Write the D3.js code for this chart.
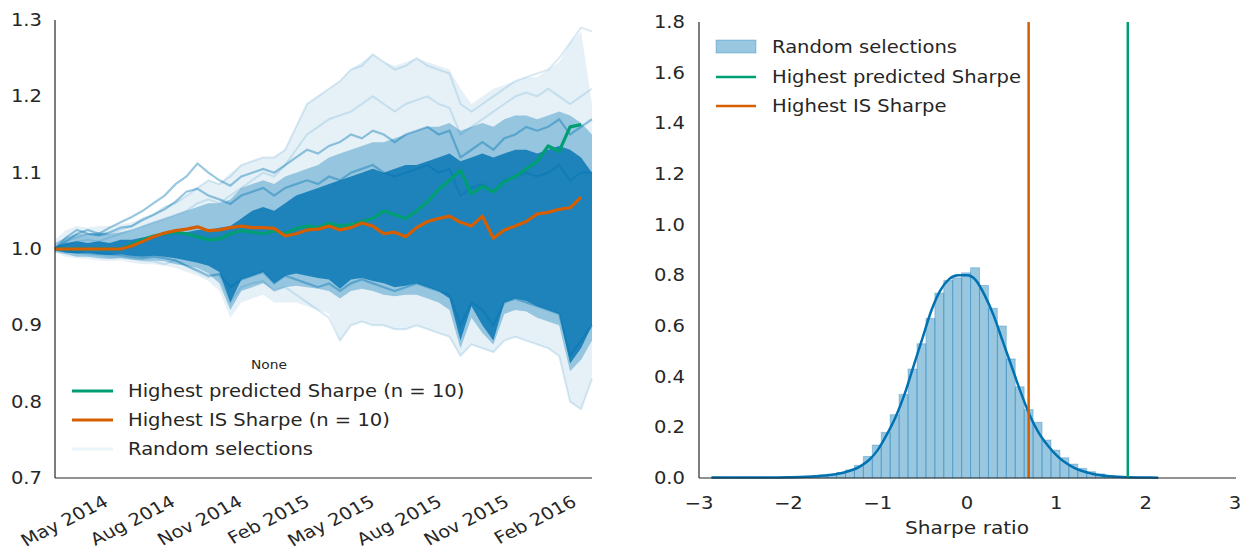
<!DOCTYPE html>
<html>
<head>
<meta charset="utf-8">
<script src="https://cdn.jsdelivr.net/npm/d3@7"></script>
<style>
  body { margin: 0; background: #fff; }
  text { font-family: "DejaVu Sans", sans-serif; fill: #262626; }
</style>
</head>
<body>
<svg id="chart" width="1243" height="555"></svg>
<script>

// ---- left panel: cumulative returns, one point every 15 days from 16 Feb 2014
const startDate = new Date(2014, 1, 16)
const nPoints = 50

const predictedSharpe = [1.0,1.0,1.0,1.0,1.0,1.0,1.0,1.006,1.012,1.017,1.02,1.022,1.02,1.016,1.012,1.013,1.02,1.024,1.022,1.02,1.024,1.02,1.027,1.03,1.028,1.034,1.03,1.032,1.036,1.04,1.05,1.045,1.04,1.05,1.062,1.078,1.09,1.103,1.072,1.082,1.075,1.088,1.095,1.105,1.115,1.135,1.128,1.16,1.163]

const isSharpe = [1.0,1.0,1.0,1.0,1.0,1.0,1.0,1.004,1.01,1.016,1.021,1.024,1.026,1.029,1.024,1.025,1.028,1.03,1.028,1.028,1.027,1.017,1.02,1.025,1.026,1.03,1.025,1.028,1.034,1.03,1.02,1.022,1.016,1.028,1.036,1.04,1.043,1.035,1.03,1.043,1.014,1.025,1.03,1.036,1.046,1.048,1.052,1.054,1.068]

// spread of the random selections (dense core, middle, faint outer)
const coreLo = [0.998,0.995,0.994,0.995,0.993,0.992,0.993,0.991,0.99,0.991,0.99,0.988,0.985,0.982,0.978,0.97,0.93,0.96,0.965,0.97,0.955,0.965,0.968,0.965,0.962,0.96,0.948,0.96,0.962,0.958,0.955,0.95,0.952,0.955,0.95,0.945,0.935,0.88,0.925,0.9,0.88,0.93,0.935,0.932,0.925,0.92,0.915,0.85,0.87,0.9]
const coreHi = [1.003,1.008,1.01,1.008,1.01,1.008,1.012,1.012,1.015,1.018,1.02,1.022,1.022,1.025,1.025,1.028,1.03,1.04,1.05,1.055,1.05,1.06,1.07,1.075,1.08,1.085,1.09,1.095,1.1,1.105,1.1,1.105,1.11,1.11,1.115,1.12,1.125,1.115,1.12,1.125,1.12,1.125,1.13,1.13,1.125,1.13,1.135,1.13,1.12,1.1]
const midLo = [0.996,0.993,0.99,0.99,0.988,0.987,0.988,0.986,0.985,0.985,0.984,0.98,0.978,0.975,0.968,0.955,0.92,0.945,0.95,0.955,0.945,0.95,0.952,0.95,0.948,0.945,0.935,0.945,0.948,0.945,0.94,0.938,0.94,0.94,0.935,0.93,0.92,0.87,0.91,0.89,0.875,0.915,0.92,0.918,0.91,0.905,0.9,0.84,0.855,0.88]
const midHi = [1.008,1.015,1.02,1.02,1.022,1.02,1.022,1.025,1.03,1.035,1.04,1.045,1.05,1.055,1.06,1.06,1.065,1.08,1.085,1.09,1.085,1.095,1.1,1.105,1.11,1.12,1.125,1.13,1.135,1.14,1.14,1.145,1.15,1.155,1.16,1.16,1.165,1.155,1.16,1.165,1.16,1.17,1.175,1.175,1.17,1.175,1.18,1.175,1.165,1.15]
const outerLo = [0.995,0.99,0.988,0.987,0.985,0.984,0.985,0.982,0.98,0.98,0.978,0.975,0.97,0.965,0.958,0.945,0.91,0.93,0.935,0.94,0.93,0.93,0.93,0.925,0.92,0.915,0.88,0.9,0.905,0.9,0.9,0.895,0.895,0.9,0.895,0.89,0.885,0.86,0.875,0.87,0.865,0.88,0.885,0.88,0.875,0.87,0.86,0.8,0.79,0.83]
const outerHi = [1.012,1.025,1.03,1.028,1.03,1.03,1.032,1.035,1.04,1.045,1.055,1.062,1.07,1.08,1.09,1.085,1.1,1.11,1.115,1.12,1.12,1.13,1.16,1.19,1.2,1.21,1.22,1.235,1.245,1.255,1.245,1.24,1.245,1.25,1.245,1.24,1.235,1.21,1.19,1.2,1.21,1.215,1.22,1.225,1.225,1.235,1.245,1.27,1.285,1.19]

// a few single random selections that stand out
const randomTop = [1.0,1.01,1.015,1.02,1.018,1.02,1.025,1.03,1.04,1.045,1.055,1.06,1.07,1.08,1.09,1.085,1.095,1.11,1.115,1.12,1.12,1.13,1.16,1.19,1.2,1.21,1.22,1.235,1.24,1.255,1.245,1.235,1.24,1.25,1.24,1.235,1.23,1.19,1.18,1.19,1.2,1.21,1.22,1.225,1.23,1.235,1.25,1.27,1.29,1.285]
const randomTop2 = [1.0,1.005,1.01,1.012,1.01,1.015,1.02,1.025,1.03,1.035,1.04,1.045,1.05,1.06,1.065,1.06,1.07,1.08,1.09,1.1,1.095,1.11,1.13,1.15,1.16,1.17,1.175,1.18,1.19,1.2,1.19,1.18,1.19,1.195,1.2,1.19,1.185,1.15,1.16,1.17,1.18,1.19,1.2,1.205,1.2,1.21,1.2,1.19,1.2,1.21]
const randomUpA = [1.0,1.01,1.02,1.025,1.02,1.028,1.035,1.042,1.05,1.06,1.07,1.085,1.095,1.112,1.1,1.09,1.083,1.095,1.1,1.105,1.1,1.11,1.12,1.13,1.125,1.135,1.14,1.15,1.145,1.155,1.15,1.14,1.15,1.155,1.16,1.15,1.155,1.12,1.13,1.14,1.13,1.145,1.15,1.16,1.155,1.16,1.17,1.15,1.16,1.17]
const randomUpB = [1.0,1.015,1.025,1.02,1.018,1.022,1.028,1.03,1.038,1.045,1.052,1.062,1.075,1.079,1.07,1.065,1.059,1.07,1.075,1.08,1.07,1.08,1.085,1.09,1.085,1.095,1.09,1.1,1.105,1.11,1.1,1.095,1.1,1.105,1.11,1.1,1.105,1.07,1.08,1.085,1.075,1.09,1.095,1.1,1.095,1.1,1.11,1.09,1.1,1.1]
const randomLowA = [1.0,0.998,0.995,0.993,0.992,0.99,0.99,0.988,0.985,0.984,0.98,0.985,0.978,0.97,0.963,0.967,0.93,0.95,0.955,0.958,0.945,0.95,0.94,0.93,0.92,0.91,0.88,0.9,0.905,0.9,0.9,0.895,0.895,0.9,0.895,0.89,0.885,0.86,0.875,0.87,0.865,0.88,0.885,0.88,0.875,0.87,0.86,0.8,0.79,0.83]
const randomLowB = [1.0,0.998,0.996,0.995,0.994,0.993,0.992,0.99,0.988,0.99,0.988,0.985,0.978,0.972,0.965,0.967,0.95,0.96,0.965,0.97,0.955,0.965,0.96,0.955,0.95,0.955,0.945,0.955,0.96,0.955,0.95,0.945,0.95,0.955,0.95,0.945,0.94,0.9,0.93,0.92,0.9,0.93,0.935,0.93,0.925,0.92,0.915,0.86,0.88,0.9]

const dateTicks = ['2014-05-01','2014-08-01','2014-11-01','2015-02-01','2015-05-01','2015-08-01','2015-11-01','2016-02-01']
const returnTicks = [0.7, 0.8, 0.9, 1.0, 1.1, 1.2, 1.3]

// ---- right panel: Sharpe ratio distribution
const histStart = -2.86
const histBinWidth = 0.1
const histDensity = [0.004,0,0,0.002,0,0.002,0,0.002,0.002,0.004,0.004,0.006,0.008,0.014,0.022,0.032,0.05,0.085,0.13,0.18,0.25,0.33,0.43,0.53,0.63,0.73,0.78,0.79,0.81,0.83,0.76,0.67,0.6,0.47,0.36,0.27,0.22,0.15,0.11,0.08,0.055,0.038,0.025,0.016,0.01,0.006,0.004,0.003,0.002,0.002]

const kdeX = [-2.86,-2.6,-2.2,-2.0,-1.8,-1.6,-1.4,-1.2,-1.1,-1.0,-0.9,-0.8,-0.7,-0.6,-0.5,-0.4,-0.3,-0.2,-0.1,0.0,0.1,0.2,0.3,0.4,0.5,0.6,0.7,0.8,0.9,1.0,1.2,1.4,1.6,1.8,2.0,2.14]
const kdeY = [0.002,0.002,0.002,0.003,0.005,0.01,0.02,0.045,0.07,0.11,0.17,0.24,0.33,0.44,0.55,0.66,0.74,0.785,0.80,0.80,0.78,0.72,0.64,0.54,0.44,0.34,0.25,0.18,0.13,0.09,0.04,0.017,0.007,0.003,0.002,0.001]

const sharpePredicted = 1.80
const sharpeIS = 0.69

const sharpeTicks = [-3, -2, -1, 0, 1, 2, 3]
const densityTicks = [0.0, 0.2, 0.4, 0.6, 0.8, 1.0, 1.2, 1.4, 1.6, 1.8]

const blue = '#0072b2'
const green = '#009e73'
const orange = '#d55e00'

// the source figure is a little wider than tall, text included
const stretch = 1.15

let svg = d3.select('#chart')

// text helper: places a (horizontally stretched) label at x,y
const label = (parent, x, y, str, size, anchor, rotate) => parent.append('text')
.attr('transform', 'translate(' + x + ',' + y + ') scale(' + stretch + ',1)' + (rotate ? ' rotate(' + rotate + ')' : ''))
.attr('text-anchor', anchor || 'start')
.style('font-size', size + 'px')
.text(str)

// ================= left panel =================

let dates = d3.range(nPoints).map(i => d3.timeDay.offset(startDate, i * 15))

let xTime = d3.scaleTime()
.domain([dates[0], dates[nPoints - 1]])
.range([55, 592])

let yRet = d3.scaleLinear()
.domain([0.7, 1.3])
.range([478, 20])

let left = svg.append('g')

const band = (lo, hi) => d3.area()
.x((d, i) => xTime(dates[i]))
.y0((d, i) => yRet(lo[i]))
.y1((d, i) => yRet(hi[i]))(lo)

const path = d3.line()
.x((d, i) => xTime(dates[i]))
.y(d => yRet(d))

left.append('path').attr('d', band(outerLo, outerHi)).attr('fill', blue).attr('fill-opacity', 0.1)
left.append('path').attr('d', band(midLo, midHi)).attr('fill', blue).attr('fill-opacity', 0.35)

;[randomTop, randomTop2, randomLowA].map(s => {
	left.append('path')
	.attr('d', path(s))
	.attr('fill', 'none')
	.attr('stroke', blue)
	.attr('stroke-opacity', 0.15)
	.attr('stroke-width', 2)
})

left.append('path').attr('d', band(coreLo, coreHi)).attr('fill', blue).attr('fill-opacity', 0.8)

;[randomUpA, randomUpB, randomLowB].map(s => {
	left.append('path')
	.attr('d', path(s))
	.attr('fill', 'none')
	.attr('stroke', blue)
	.attr('stroke-opacity', 0.4)
	.attr('stroke-width', 2.2)
})

left.append('path')
.attr('d', path(predictedSharpe))
.attr('fill', 'none')
.attr('stroke', green)
.attr('stroke-width', 3.2)
.attr('stroke-linejoin', 'round')

left.append('path')
.attr('d', path(isSharpe))
.attr('fill', 'none')
.attr('stroke', orange)
.attr('stroke-width', 3.2)
.attr('stroke-linejoin', 'round')

// spines
left.append('line').attr('x1', 55).attr('x2', 55).attr('y1', 20).attr('y2', 478).attr('stroke', '#262626').attr('stroke-width', 1.2)
left.append('line').attr('x1', 55).attr('x2', 592).attr('y1', 478).attr('y2', 478).attr('stroke', '#262626').attr('stroke-width', 1.2)

returnTicks.map(d => {
	label(left, 42, yRet(d) + 6, d3.format('.1f')(d), 17, 'end')
})

let timeFormat = d3.timeFormat('%b %Y')
let parseDay = d3.timeParse('%Y-%m-%d')

dateTicks.map(parseDay).map(d => {
	label(left, xTime(d) - 7, 494, timeFormat(d), 17, 'end', -30)
	.attr('dy', '0.75em')
})

// legend
let legL = left.append('g')

label(legL, 269, 369, 'None', 12, 'middle')

const leftLegend = [
	{ label: 'Highest predicted Sharpe (n = 10)', color: green, opacity: 1 },
	{ label: 'Highest IS Sharpe (n = 10)', color: orange, opacity: 1 },
	{ label: 'Random selections', color: blue, opacity: 0.08 }
]

leftLegend.map((l, i) => {
	let yy = 391 + i * 29
	legL.append('line')
	.attr('x1', 72).attr('x2', 113)
	.attr('y1', yy).attr('y2', yy)
	.attr('stroke', l.color)
	.attr('stroke-opacity', l.opacity)
	.attr('stroke-width', 3)
	label(legL, 128, yy + 6, l.label, 17)
})

// ================= right panel =================

let xSharpe = d3.scaleLinear()
.domain([-3, 3])
.range([699, 1235])

let yDens = d3.scaleLinear()
.domain([0, 1.8])
.range([478, 22])

let right = svg.append('g')

right.selectAll('.bar')
.data(histDensity)
.enter()
.append('rect')
.attr('class', 'bar')
.attr('x', (d, i) => xSharpe(histStart + i * histBinWidth))
.attr('width', xSharpe(histBinWidth) - xSharpe(0))
.attr('y', d => yDens(d))
.attr('height', d => yDens(0) - yDens(d))
.attr('fill', blue)
.attr('fill-opacity', 0.4)
.attr('stroke', blue)
.attr('stroke-opacity', 0.3)
.attr('stroke-width', 1)

right.append('path')
.attr('d', d3.line()
	.x((d, i) => xSharpe(kdeX[i]))
	.y(d => yDens(d))
	.curve(d3.curveMonotoneX)(kdeY))
.attr('fill', 'none')
.attr('stroke', blue)
.attr('stroke-width', 2.5)

right.append('line')
.attr('x1', xSharpe(sharpePredicted)).attr('x2', xSharpe(sharpePredicted))
.attr('y1', yDens(1.8)).attr('y2', yDens(0))
.attr('stroke', green)
.attr('stroke-width', 2.5)

right.append('line')
.attr('x1', xSharpe(sharpeIS)).attr('x2', xSharpe(sharpeIS))
.attr('y1', yDens(1.8)).attr('y2', yDens(0))
.attr('stroke', orange)
.attr('stroke-width', 2.5)

right.append('line').attr('x1', 699).attr('x2', 699).attr('y1', 22).attr('y2', 478).attr('stroke', '#262626').attr('stroke-width', 1.2)
right.append('line').attr('x1', 699).attr('x2', 1236).attr('y1', 478).attr('y2', 478).attr('stroke', '#262626').attr('stroke-width', 1.2)

densityTicks.map(d => {
	label(right, 685, yDens(d) + 6, d3.format('.1f')(d), 17, 'end')
})

sharpeTicks.map(d => {
	label(right, xSharpe(d), 509, d < 0 ? '\u2212' + Math.abs(d) : d, 17, 'middle')
})

label(right, 967, 534, 'Sharpe ratio', 17.5, 'middle')

let legR = right.append('g')

legR.append('rect')
.attr('x', 716).attr('y', 40)
.attr('width', 40).attr('height', 13)
.attr('fill', blue).attr('fill-opacity', 0.4)
.attr('stroke', blue).attr('stroke-opacity', 0.3)

label(legR, 772, 53, 'Random selections', 17)

;[{ label: 'Highest predicted Sharpe', color: green }, { label: 'Highest IS Sharpe', color: orange }].map((l, i) => {
	let yy = 77 + i * 29
	legR.append('line')
	.attr('x1', 716).attr('x2', 756)
	.attr('y1', yy).attr('y2', yy)
	.attr('stroke', l.color)
	.attr('stroke-width', 2.5)
	label(legR, 772, yy + 6, l.label, 17)
})

</script>
</body>
</html>
